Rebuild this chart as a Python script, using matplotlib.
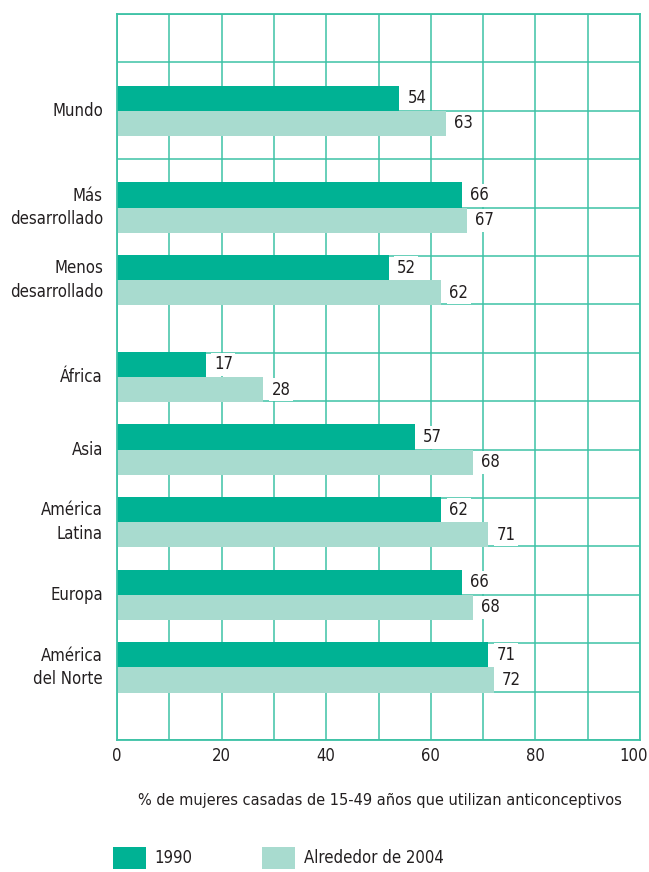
import matplotlib
matplotlib.use("Agg")
import matplotlib.pyplot as plt

# ---- data ----
regions = ["Mundo", "Más\ndesarrollado", "Menos\ndesarrollado", "África", "Asia",
           "América\nLatina", "Europa", "América\ndel Norte"]
values_1990 = [54, 66, 52, 17, 57, 62, 66, 71]
values_2004 = [63, 67, 62, 28, 68, 71, 68, 72]
series_names = ["1990", "Alrededor de 2004"]
xticks = [0, 20, 40, 60, 80, 100]
xlabel = "% de mujeres casadas de 15-49 años que utilizan anticonceptivos"

# ---- layout ----
row_centers = [2, 4, 5.5, 7.5, 9, 10.5, 12, 13.5]
bar_h = 0.52
dark = "#00B294"
light = "#A8DBCF"
grid_c = "#3DC2A6"
text_c = "#231F20"

plt.rcParams["font.family"] = ["DejaVu Sans"]
plt.rcParams["font.stretch"] = "condensed"
FS = 12

fig = plt.figure(figsize=(6.49, 8.72), dpi=100)
ax = fig.add_axes([117/649, 1-740/872, 523/649, 726/872])

ax.set_xlim(0, 100)
ax.set_ylim(15, 0)
ax.set_xticks(range(0, 101, 10))
ax.set_yticks(range(0, 16))
ax.grid(True, color=grid_c, lw=1.1, zorder=0)
ax.set_axisbelow(True)
for s in ax.spines.values():
    s.set_color(grid_c)
    s.set_linewidth(1.3)
ax.tick_params(length=0, labelleft=False, labelbottom=False)

y1 = [c - bar_h/2 for c in row_centers]
y2 = [c + bar_h/2 for c in row_centers]
b1 = ax.barh(y1, values_1990, height=bar_h, color=dark, zorder=2, label=series_names[0])
b2 = ax.barh(y2, values_2004, height=bar_h, color=light, zorder=2, label=series_names[1])

for bars, vals in ((b1, values_1990), (b2, values_2004)):
    for r, v in zip(bars, vals):
        ax.annotate(f"{v}", (r.get_width(), r.get_y() + r.get_height()/2),
                    xytext=(8, 0), textcoords="offset pixels", ha="left", va="center",
                    fontsize=FS, color=text_c, zorder=3,
                    bbox=dict(boxstyle="square,pad=0.15", fc="white", ec="none"))

for lab, c in zip(regions, row_centers):
    ax.annotate(lab, (0, c), xytext=(-14, 0), textcoords="offset pixels",
                ha="right", va="center", multialignment="right",
                fontsize=FS, color=text_c, linespacing=1.4)

for t in xticks:
    dx = -6 if t == xticks[-1] else 0
    ax.annotate(f"{t}", (t, 15), xytext=(dx, -16), textcoords="offset pixels",
                ha="center", va="center", fontsize=FS, color=text_c,
                annotation_clip=False)

fig.text(380/649, 1-800/872, xlabel, ha="center", va="center", fontsize=11.7, color=text_c)

fig.legend(handles=[b1, b2], labels=series_names, loc="center left",
           bbox_to_anchor=(113/649, 1-858/872), ncol=2, frameon=False,
           fontsize=FS, handlelength=2.0, handleheight=1.6, handletextpad=0.5,
           columnspacing=4.15, borderpad=0, borderaxespad=0, labelcolor=text_c)

fig.savefig("out.png", dpi=100, facecolor="white")
